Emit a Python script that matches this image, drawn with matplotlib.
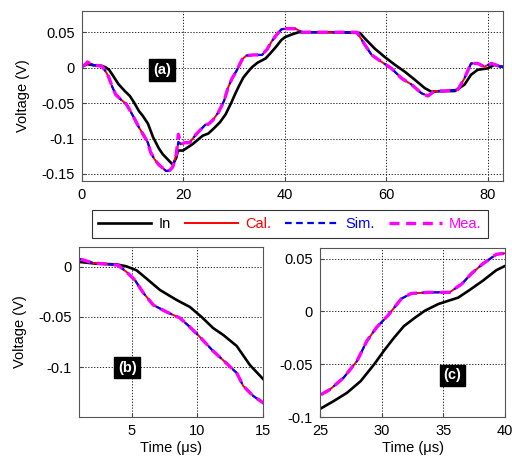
import matplotlib
matplotlib.use("Agg")
import matplotlib.pyplot as plt
import numpy as np
from matplotlib.lines import Line2D

plt.rcParams['font.family'] = ['Liberation Sans', 'DejaVu Sans']
plt.rcParams['axes.unicode_minus'] = False

# ---- data ----
t_in = [0, 0.9, 1.06, 2.33, 3.5, 3.86, 4.6, 5.38, 6.14, 7.16, 8.43, 9.44, 10.33, 11.2, 11.98, 13.0,
        14.0, 15.15, 15.9, 17.9, 18.6, 18.9, 19.9, 21.8, 23.8, 24.9, 26.1, 27.2, 28.3, 29.4, 30.2,
        31.0, 31.8, 32.7, 33.5, 34.6, 35.4, 36.2, 37.1, 38.2, 39.3, 40.0, 41.4, 42.7, 49.3, 54.8,
        55.8, 57.7, 59.7, 61.7, 63.7, 65.6, 67.6, 68.9, 70.8, 73.5, 75.4, 76.7, 78.0, 80.0, 81.3, 82.6, 83.0]
v_in = [0.0014, 0.0047, 0.005, 0.0033, 0.0028, 0.0026, 0.0007, -0.0033, -0.0116, -0.023, -0.033, -0.040,
        -0.050, -0.061, -0.068, -0.079, -0.098, -0.114, -0.122, -0.137, -0.127, -0.117, -0.117, -0.108,
        -0.096, -0.093, -0.085, -0.077, -0.066, -0.050, -0.037, -0.025, -0.014, -0.006, 0.0006, 0.007,
        0.010, 0.013, 0.020, 0.029, 0.039, 0.043, 0.047, 0.050, 0.050, 0.049, 0.041, 0.027, 0.015,
        0.004, -0.006, -0.017, -0.029, -0.034, -0.033, -0.033, -0.024, -0.010, -0.003, -0.001, 0.004,
        0.0014, 0.0014]

t_out = [0, 0.9, 1.06, 2.08, 3.35, 3.98, 4.62, 5.25, 5.9, 6.65, 7.67, 8.68, 9.44, 10.2, 11.2, 12.2,
         13.0, 13.5, 14.26, 15.15, 16.6, 17.3, 17.9, 18.6, 19.0, 19.5, 20.2, 21.2, 22.5, 24.4, 24.9,
         25.8, 26.9, 28.0, 28.8, 29.6, 30.5, 31.6, 32.4, 33.8, 34.6, 35.5, 36.5, 37.3, 38.2, 39.3,
         40.0, 40.8, 42.1, 43.4, 49.3, 54.2, 55.8, 57.1, 59.1, 61.0, 63.0, 65.0, 66.9, 68.2, 69.5,
         71.5, 74.1, 75.4, 76.7, 78.0, 79.3, 80.7, 82.6, 83.0]
v_cal = [0.0014, 0.006, 0.008, 0.004, 0.0026, 0.0017, -0.005, -0.013, -0.026, -0.038, -0.045, -0.051,
         -0.060, -0.070, -0.084, -0.096, -0.106, -0.119, -0.129, -0.137, -0.146, -0.145, -0.140, -0.122,
         -0.105, -0.108, -0.106, -0.106, -0.094, -0.080, -0.080, -0.074, -0.063, -0.047, -0.028, -0.015,
         -0.004, 0.012, 0.017, 0.018, 0.018, 0.018, 0.026, 0.036, 0.045, 0.054, 0.055, 0.055, 0.055,
         0.050, 0.050, 0.050, 0.032, 0.018, 0.008, -0.001, -0.015, -0.024, -0.036, -0.040, -0.033,
         -0.033, -0.031, -0.015, 0.006, 0.006, 0.0014, 0.006, 0.0014, 0.0014]
v_sim = list(v_cal)
v_mea = list(v_cal)
v_mea[24] = -0.094

series = [("In", t_in, v_in, dict(color='black', lw=1.9, ls='-')),
          ("Cal.", t_out, v_cal, dict(color='red', lw=1.4, ls='-')),
          ("Sim.", t_out, v_sim, dict(color='blue', lw=1.6, ls=(0, (3, 2)))),
          ("Mea.", t_out, v_mea, dict(color='magenta', lw=2.4, ls=(0, (3, 2))))]

fig = plt.figure(figsize=(5.12, 4.61), dpi=100)
W, H = 512, 461
def pos(l, r, t, b):
    return [l / W, 1 - b / H, (r - l) / W, (b - t) / H]

axa = fig.add_axes(pos(82, 503, 11, 181))
axb = fig.add_axes(pos(79, 263, 247, 417))
axc = fig.add_axes(pos(320, 505, 248, 417))

FS = 10.5
for ax in (axa, axb, axc):
    for name, tt, vv, st in series:
        ax.plot(tt, vv, **st)
    ax.grid(True, color='black', ls=(0, (1.5, 2)), lw=0.6)
    ax.tick_params(direction='in', length=3, labelsize=FS, pad=5, color='#444444')
    for s in ax.spines.values():
        s.set_color('#555555')
        s.set_linewidth(0.8)

axa.set_xlim(0, 83)
axa.set_ylim(-0.16, 0.08)
axa.set_xticks([0, 20, 40, 60, 80])
axa.set_yticks([0.05, 0, -0.05, -0.1, -0.15])
axa.set_yticklabels(['0.05', '0', '-0.05', '-0.1', '-0.15'])
axa.set_ylabel('Voltage (V)', fontsize=FS, labelpad=8)

axb.set_xlim(1, 15)
axb.set_ylim(-0.15, 0.02)
axb.set_xticks([5, 10, 15])
axb.set_yticks([0, -0.05, -0.1])
axb.set_yticklabels(['0', '-0.05', '-0.1'])
axb.set_ylabel('Voltage (V)', fontsize=FS, labelpad=8)
axb.set_xlabel('Time (μs)', fontsize=FS, labelpad=2)

axc.set_xlim(25, 40)
axc.set_ylim(-0.1, 0.06)
axc.set_xticks([25, 30, 35, 40])
axc.set_yticks([0.05, 0, -0.05, -0.1])
axc.set_yticklabels(['0.05', '0', '-0.05', '-0.1'])
axc.set_xlabel('Time (μs)', fontsize=FS, labelpad=2)

box = dict(boxstyle='square,pad=0.25', fc='black', ec='black')
for ax, lab, x, y in ((axa, '(a)', 0.19, 0.653), (axb, '(b)', 0.263, 0.291), (axc, '(c)', 0.714, 0.247)):
    ax.text(x, y, lab, transform=ax.transAxes, color='white', fontweight='bold',
            fontsize=FS, ha='center', va='center', bbox=box, zorder=10)

handles = [Line2D([], [], **st) for _, _, _, st in series]
labels = [s[0] for s in series]
leg = fig.legend(handles, labels, ncol=4, loc='center',
                 bbox_to_anchor=(290 / W, 1 - 224 / H), fontsize=FS,
                 frameon=True, fancybox=False, edgecolor='black', handlelength=3.6,
                 columnspacing=1.0, handletextpad=0.5, borderpad=0.45)
leg.get_frame().set_linewidth(0.8)
for txt, (_, _, _, st) in zip(leg.get_texts(), series):
    txt.set_color(st['color'])

fig.savefig('out.png', dpi=100)
